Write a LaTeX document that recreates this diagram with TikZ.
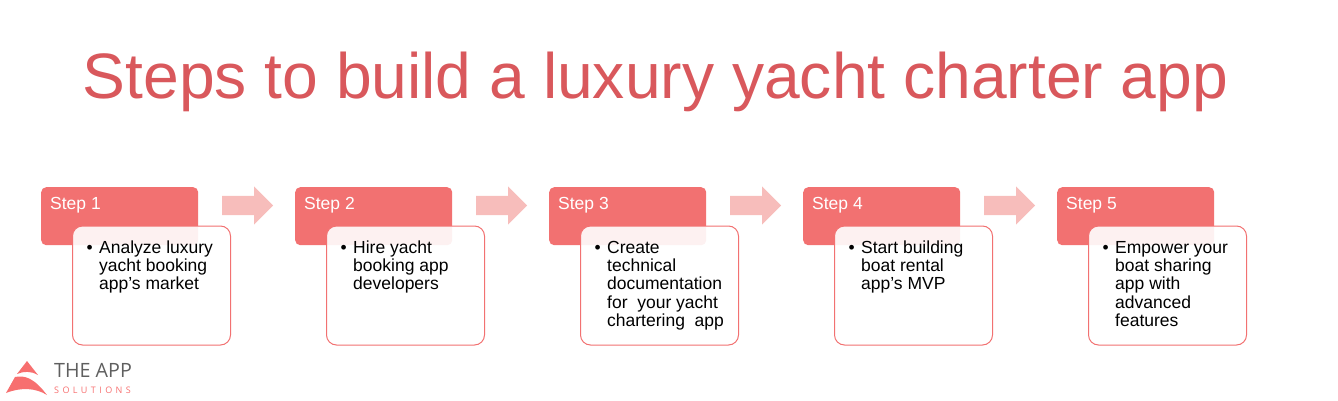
\documentclass[tikz,border=0pt]{standalone}
\usepackage{fontspec}
\setmainfont{Liberation Sans}
\newfontfamily\logofont{Open Sans}
\newfontfamily\logosubfont[LetterSpace=38]{Open Sans}
\usetikzlibrary{positioning,shapes.arrows}
\definecolor{titlered}{HTML}{D9585C}
\definecolor{stepred}{HTML}{F27171}
\definecolor{arrowpink}{HTML}{F7BDBB}
\definecolor{logored}{HTML}{F76F6F}
\definecolor{logogray}{HTML}{5F5F5F}
\tikzset{
	stepbox/.style={fill=stepred,rounded corners=5pt,minimum width=157pt,minimum height=58pt,inner sep=0pt,anchor=north west},
	steplabel/.style={text=white,font=\fontsize{17.5}{18}\selectfont,inner sep=0pt,anchor=base west},
	cardbox/.style={draw=stepred,fill=white,fill opacity=.9,draw opacity=1,line width=1pt,rounded corners=10pt,minimum width=158pt,minimum height=119pt,inner sep=0pt,anchor=north west},
	cardtext/.style={font=\fontsize{17.5}{18.2}\selectfont,align=left,inner sep=0pt,anchor=north west},
	nextarrow/.style={single arrow,fill=arrowpink,minimum height=51pt,minimum width=38pt,inner sep=9.5pt,single arrow head extend=9.5pt,anchor=west},
}
\begin{document}
\begin{tikzpicture}[x=1pt,y=-1pt]
	\useasboundingbox (0,0) rectangle (1338,401);
	\node[text=titlered,font=\fontsize{64.2}{66}\selectfont,inner sep=0pt,anchor=base] (title) at (655.5,99) {Steps to build a luxury yacht charter app};
	% the five steps
	\foreach \i/\txt in {1/{Analyze luxury\\yacht booking\\app’s market},2/{Hire yacht\\booking app\\developers},3/{Create\\technical\\documentation\\for\ \ your yacht\\chartering\ \ app},4/{Start building\\boat rental\\app’s MVP},5/{Empower your\\boat sharing\\app with\\advanced\\features}}{
		\node[stepbox] (step\i) at ({41+254*(\i-1)},187) {};
		\node[steplabel] (label\i) at ({50+254*(\i-1)},209) {Step \i};
		\node[cardbox] (card\i) at ({72+254*(\i-1)},225.5) {};
		\node[cardtext] (body\i) at ({99+254*(\i-1)},239.3) {\rule{0pt}{14pt}\llap{\textbullet\hspace{6.5pt}}\txt};
	}
	\foreach \i in {1,2,3,4}{
		\node[nextarrow] (arrow\i) at ({222+254*(\i-1)},205.5) {};
	}
	% logo
	\fill[logored] (27,361) -- (38,375) .. controls (31,371) and (24,371) .. (17,374) -- cycle;
	\fill[logored] (6,393) -- (15,377) .. controls (25,375) and (34,378) .. (47,395) .. controls (36,388) and (21,387) .. (6,393) -- cycle;
	\node[text=logogray,font=\logofont\fontsize{19.7}{20}\selectfont,inner sep=0pt,anchor=base west] (brand) at (54,377) {THE APP};
	\node[text=logored,font=\logosubfont\fontsize{9}{9}\selectfont,inner sep=0pt,anchor=base west] (brandsub) at (54,393) {SOLUTIONS};
\end{tikzpicture}
\end{document}
